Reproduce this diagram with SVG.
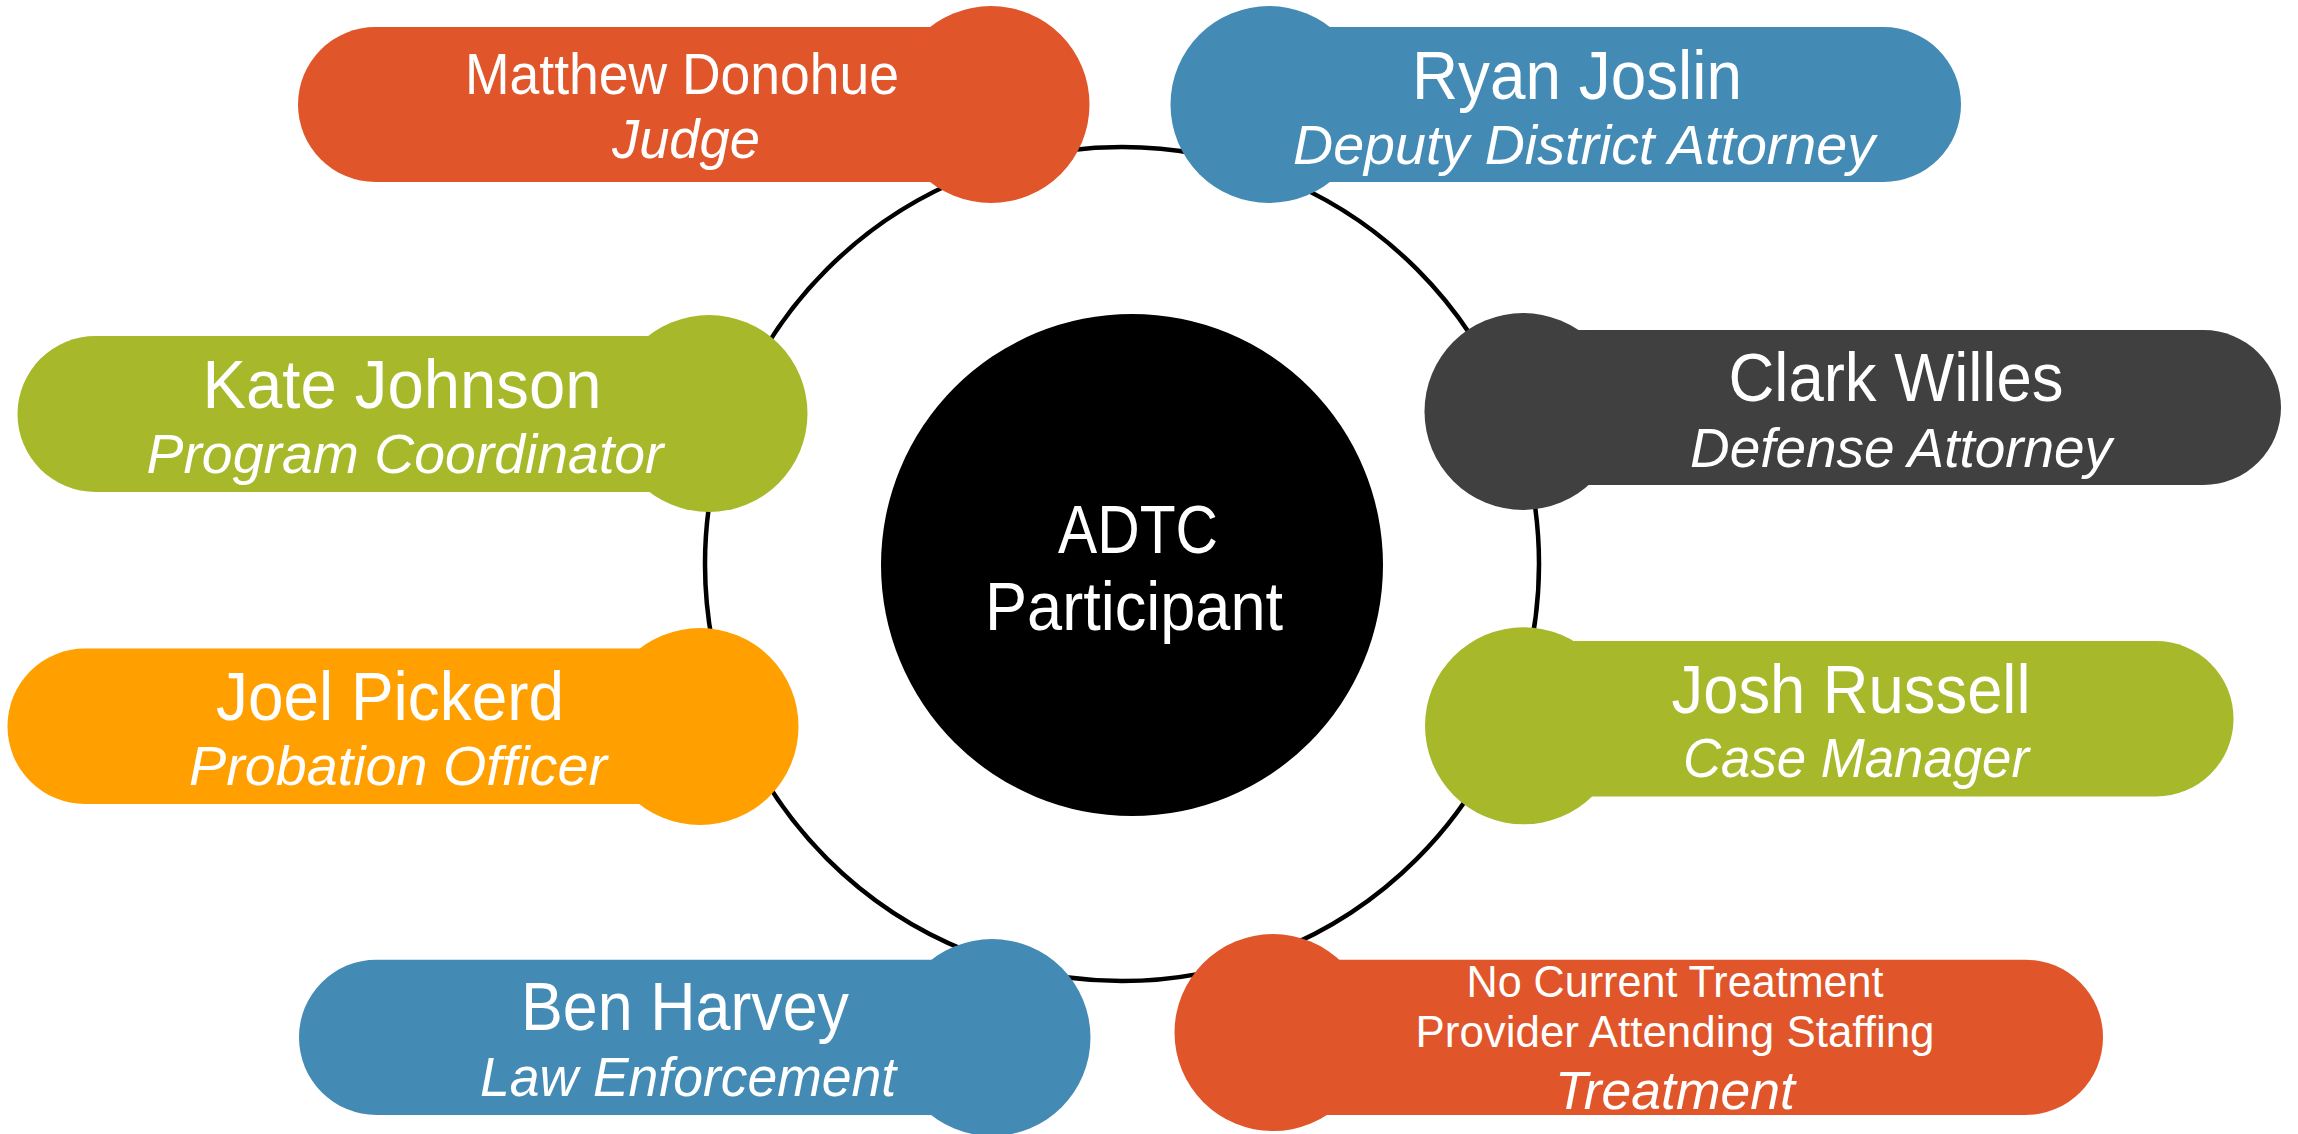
<svg xmlns="http://www.w3.org/2000/svg" width="2298" height="1134" viewBox="0 0 2298 1134">
<style>
.t{font-family:"Liberation Sans",Arial,sans-serif;fill:#fff;text-anchor:middle}
.n{font-size:68px}
.r{font-size:56px;font-style:italic}
.red{fill:#E05529}.blue{fill:#438BB5}.green{fill:#A7B92A}.gray{fill:#404040}.orange{fill:#FFA000}
</style>
<rect width="2298" height="1134" fill="#fff"/>
<g id="connectors">
<circle cx="1122" cy="564" r="417" fill="none" stroke="#000" stroke-width="4.5"/>
</g>
<g id="center">
<circle cx="1132" cy="565" r="251" fill="#000"/>
<text class="t" x="1138" y="553" font-size="69" textLength="160" lengthAdjust="spacingAndGlyphs">ADTC</text>
<text class="t" x="1134" y="630" font-size="69" textLength="298" lengthAdjust="spacingAndGlyphs">Participant</text>
</g>
<g id="node-judge" class="red">
<rect x="298" y="27" width="770" height="155" rx="77.5"/>
<circle cx="991" cy="104.5" r="98.5"/>
<text class="t" x="682" y="94" font-size="57" textLength="434" lengthAdjust="spacingAndGlyphs">Matthew Donohue</text>
<text class="t r" x="686" y="158" textLength="148" lengthAdjust="spacingAndGlyphs">Judge</text>
</g>
<g id="node-dda" class="blue">
<rect x="1191.5" y="27" width="769.5" height="155" rx="77.5"/>
<circle cx="1269" cy="104.5" r="98.5"/>
<text class="t n" x="1577" y="99" textLength="330" lengthAdjust="spacingAndGlyphs">Ryan Joslin</text>
<text class="t r" x="1584" y="164" textLength="582" lengthAdjust="spacingAndGlyphs">Deputy District Attorney</text>
</g>
<g id="node-coordinator" class="green">
<rect x="17.5" y="336" width="769" height="156" rx="78"/>
<circle cx="709" cy="413.5" r="98.5"/>
<text class="t n" x="402" y="408" textLength="399" lengthAdjust="spacingAndGlyphs">Kate Johnson</text>
<text class="t r" x="405" y="473" textLength="517" lengthAdjust="spacingAndGlyphs">Program Coordinator</text>
</g>
<g id="node-defense" class="gray">
<rect x="1445.5" y="330" width="835.5" height="155" rx="77.5"/>
<circle cx="1523" cy="411.5" r="98.5"/>
<text class="t n" x="1896" y="401" textLength="335" lengthAdjust="spacingAndGlyphs">Clark Willes</text>
<text class="t r" x="1901" y="466.5" textLength="422" lengthAdjust="spacingAndGlyphs">Defense Attorney</text>
</g>
<g id="node-probation" class="orange">
<rect x="7.5" y="648.5" width="770" height="155.5" rx="77.5"/>
<circle cx="700" cy="726.5" r="98.5"/>
<text class="t n" x="390" y="719.5" textLength="348" lengthAdjust="spacingAndGlyphs">Joel Pickerd</text>
<text class="t r" x="398" y="785" textLength="418" lengthAdjust="spacingAndGlyphs">Probation Officer</text>
</g>
<g id="node-case" class="green">
<rect x="1446" y="641" width="787.5" height="155.5" rx="77.5"/>
<circle cx="1523.5" cy="725.8" r="98.5"/>
<text class="t n" x="1851" y="712.8" textLength="359" lengthAdjust="spacingAndGlyphs">Josh Russell</text>
<text class="t r" x="1856" y="777" textLength="346" lengthAdjust="spacingAndGlyphs">Case Manager</text>
</g>
<g id="node-law" class="blue">
<rect x="299" y="959.7" width="770.5" height="155.3" rx="77.5"/>
<circle cx="992" cy="1037.5" r="98.5"/>
<text class="t n" x="685" y="1030.4" textLength="328" lengthAdjust="spacingAndGlyphs">Ben Harvey</text>
<text class="t r" x="688" y="1096" textLength="416" lengthAdjust="spacingAndGlyphs">Law Enforcement</text>
</g>
<g id="node-treatment" class="red">
<rect x="1195.5" y="959.7" width="907.5" height="155.3" rx="77.5"/>
<circle cx="1273" cy="1032.6" r="98.5"/>
<text class="t" x="1675" y="997" font-size="45" textLength="417" lengthAdjust="spacingAndGlyphs">No Current Treatment</text>
<text class="t" x="1675" y="1047" font-size="45" textLength="519" lengthAdjust="spacingAndGlyphs">Provider Attending Staffing</text>
<text class="t" x="1675" y="1108.6" font-size="54" font-style="italic" textLength="240" lengthAdjust="spacingAndGlyphs">Treatment</text>
</g>
</svg>
